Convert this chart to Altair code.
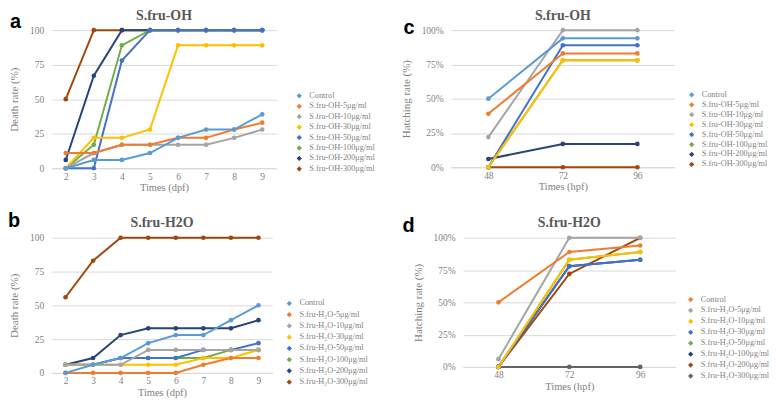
import altair as alt
import pandas as pd

# ---------------- data ----------------
days = [2, 3, 4, 5, 6, 7, 8, 9]
hours = [48, 72, 96]

oh_labels = ["Control", "S.fru-OH-5μg/ml", "S.fru-OH-10μg/ml", "S.fru-OH-30μg/ml",
             "S.fru-OH-50μg/ml", "S.fru-OH-100μg/ml", "S.fru-OH-200μg/ml", "S.fru-OH-300μg/ml"]
h2o_labels = ["Control", "S.fru-H₂O-5μg/ml", "S.fru-H₂O-10μg/ml", "S.fru-H₂O-30μg/ml",
              "S.fru-H₂O-50μg/ml", "S.fru-H₂O-100μg/ml", "S.fru-H₂O-200μg/ml", "S.fru-H₂O-300μg/ml"]

# a: death rate (%), S.fru-OH
death_oh = [
    [0, 6, 6, 11, 22, 28, 28, 39],
    [11, 11, 17, 17, 22, 22, 28, 33],
    [0, 11, 17, 17, 17, 17, 22, 28],
    [0, 22, 22, 28, 89, 89, 89, 89],
    [0, 0, 78, 100, 100, 100, 100, 100],
    [0, 17, 89, 100, 100, 100, 100, 100],
    [6, 67, 100, 100, 100, 100, 100, 100],
    [50, 100, 100, 100, 100, 100, 100, 100],
]
# b: death rate (%), S.fru-H2O
death_h2o = [
    [0, 6, 11, 22, 28, 28, 39, 50],
    [0, 0, 0, 0, 0, 6, 11, 11],
    [6, 6, 6, 17, 17, 17, 17, 17],
    [6, 6, 6, 6, 6, 11, 11, 17],
    [6, 6, 11, 11, 11, 17, 17, 22],
    [6, 6, 11, 11, 11, 11, 17, 17],
    [6, 11, 28, 33, 33, 33, 33, 39],
    [56, 83, 100, 100, 100, 100, 100, 100],
]
# c: hatching rate (%), S.fru-OH
hatch_oh = [
    [50, 94, 94],
    [39, 83, 83],
    [22, 100, 100],
    [0, 78, 78],
    [0, 89, 89],
    [0, 78, 78],
    [6, 17, 17],
    [0, 0, 0],
]
# d: hatching rate (%), S.fru-H2O
hatch_h2o = [
    [50, 89, 94],
    [6, 100, 100],
    [0, 83, 89],
    [0, 78, 83],
    [0, 83, 89],
    [0, 78, 83],
    [0, 72, 100],
    [0, 0, 0],
]

colors_main = ["#5B9BD5", "#ED7D31", "#A5A5A5", "#FFC000", "#4472C4", "#70AD47", "#264478", "#9E480E"]
colors_d = ["#ED7D31", "#A5A5A5", "#FFC000", "#4472C4", "#70AD47", "#264478", "#9E480E", "#636363"]

SERIF = "Liberation Serif"
GRAY = "#7F7F7F"
GRID = "#D9D9D9"


def long_df(xs, labels, rows):
    recs = []
    # first legend entry is drawn last (on top)
    for i in reversed(range(len(labels))):
        for x, v in zip(xs, rows[i]):
            recs.append({"x": x, "v": v, "series": labels[i], "k": i})
    return pd.DataFrame(recs)


def panel(xs, labels, rows, colors, letter, title, ytitle, xtitle, xdomain, pct,
          w, h, lx, ly, rowpad, letx, lety, titley):
    df = long_df(xs, labels, rows)
    yax = alt.Axis(values=[0, 25, 50, 75, 100], grid=True, gridColor=GRID, domain=False,
                   ticks=False, labelFont=SERIF, labelFontSize=9.5, labelColor=GRAY,
                   labelPadding=8, title=ytitle, titleFont=SERIF, titleFontSize=11,
                   titleColor=GRAY, titleFontWeight="normal", titlePadding=10,
                   labelExpr="datum.value + '%'" if pct else "datum.label")
    xax = alt.Axis(values=xs, grid=False, domainColor=GRID, ticks=False, labelFont=SERIF,
                   labelFontSize=9.5, labelColor=GRAY, labelPadding=3, title=xtitle,
                   titleFont=SERIF, titleFontSize=10.5, titleColor=GRAY,
                   titleFontWeight="normal", titlePadding=2, format="d")
    xenc = alt.X("x:Q", scale=alt.Scale(domain=xdomain, nice=False, zero=False), axis=xax)
    yenc = alt.Y("v:Q", scale=alt.Scale(domain=[0, 100], nice=False), axis=yax)
    cscale = alt.Scale(domain=labels, range=colors)
    leg = alt.Legend(title=None, orient="none", legendX=lx, legendY=ly, padding=0,
                     labelFont=SERIF, labelFontSize=8.3, labelColor=GRAY,
                     symbolType="diamond", symbolSize=28, symbolStrokeWidth=0,
                     labelOffset=6, rowPadding=rowpad, labelLimit=200)
    lines = alt.Chart(df).mark_line(strokeWidth=2).encode(
        x=xenc, y=yenc,
        color=alt.Color("series:N", scale=cscale, sort=labels, legend=leg),
        detail="k:O",
    )
    pts = alt.Chart(df).mark_point(filled=True, size=22, opacity=1).encode(
        x=xenc, y=yenc,
        color=alt.Color("series:N", scale=cscale, sort=labels, legend=leg),
        order=alt.Order("k:Q", sort="descending"),
    )
    lett = alt.Chart(pd.DataFrame({"t": [letter]})).mark_text(
        font="Liberation Sans", fontSize=20, fontWeight="bold", color="#000000",
        align="left", baseline="alphabetic").encode(
        text="t:N", x=alt.value(letx), y=alt.value(lety))
    ttl = alt.Chart(pd.DataFrame({"t": [title]})).mark_text(
        font=SERIF, fontSize=14, fontWeight="bold", color="#595959",
        align="center", baseline="alphabetic").encode(
        text="t:N", x=alt.value(w / 2), y=alt.value(titley))
    return alt.layer(lines, pts, lett, ttl).properties(width=w, height=h)


pa = panel(days, oh_labels, death_oh, colors_main, "a", "S.fru-OH", "Death rate (%)",
           "Times (dpf)", [1.5, 9.5], False, 226, 139, 245, 62, 1.5, -42, -2, -10)
pc = panel(hours, oh_labels, hatch_oh, colors_main, "c", "S.fru-OH", "Hatching rate (%)",
           "Times (hpf)", [36, 108], True, 225, 138, 238, 61, 1, -48, 4, -10)
pb = panel(days, h2o_labels, death_h2o, colors_main, "b", "S.fru-H2O", "Death rate (%)",
           "Times (dpf)", [1.5, 9.5], False, 222, 136, 235, 62, 2.3, -44, -11, -11)
pd_ = panel(hours, h2o_labels, hatch_h2o, colors_d, "d", "S.fru-H2O", "Hatching rate (%)",
            "Times (hpf)", [36, 108], True, 214, 130, 225, 58, 2, -61, -6, -11)

row1 = alt.hconcat(pa, pc, spacing=24).resolve_scale(color="independent")
row2 = alt.hconcat(pb, pd_, spacing=34).resolve_scale(color="independent")

chart = alt.vconcat(row1, row2, spacing=18).resolve_scale(color="independent").properties(
    padding={"left": 0, "top": 0, "right": 0, "bottom": 0}
).configure_view(stroke=None).configure_axis(titleFontWeight="normal")

chart.save("out.html", embed_options={"renderer": "svg", "actions": False})
